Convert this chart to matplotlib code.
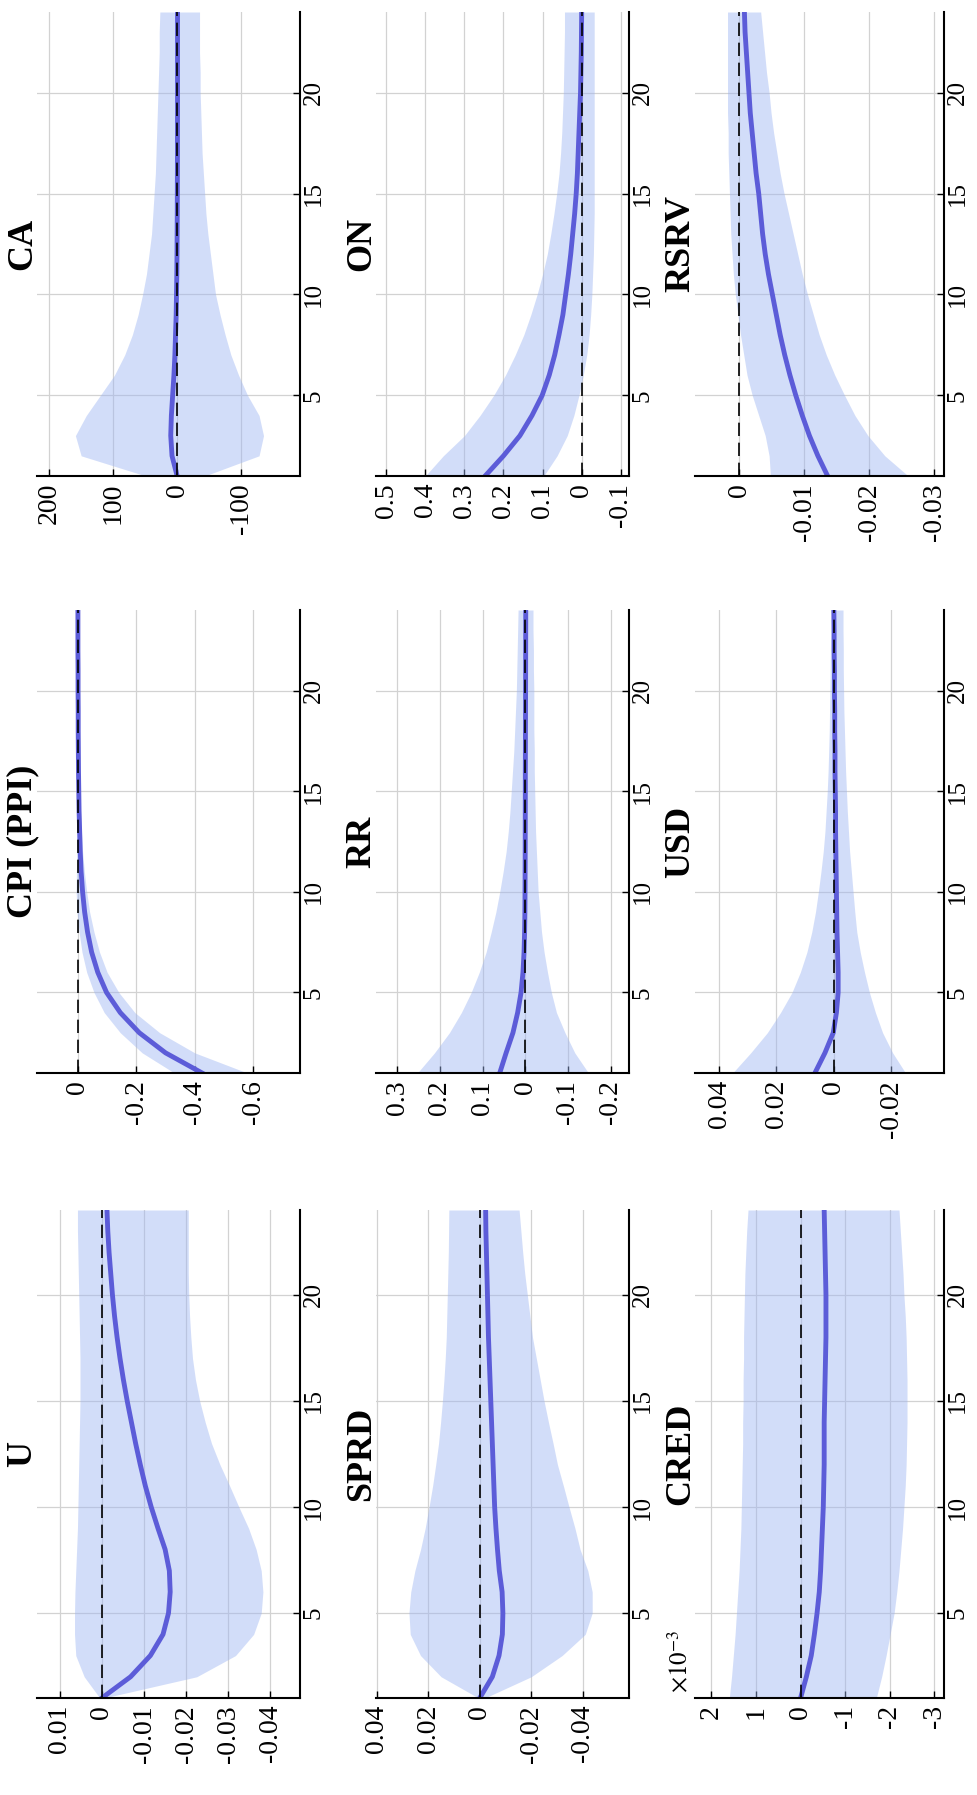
import matplotlib
matplotlib.use("Agg")
import matplotlib.pyplot as plt

plt.rcParams['font.family'] = ['Liberation Serif', 'DejaVu Serif']
plt.rcParams['mathtext.fontset'] = 'stix'

# impulse responses, horizons 1..24 (median, lower band, upper band)
horizon = list(range(1, 25))

u_irf = [0.0, -0.0068, -0.0115, -0.0145, -0.0158, -0.0162, -0.0160, -0.0150, -0.0133, -0.0117, -0.0103, -0.0091,
         -0.0080, -0.0070, -0.0060, -0.0051, -0.0043, -0.0036, -0.0030, -0.0025, -0.0021, -0.0017, -0.0014, -0.0012]
u_lo = [-0.0005, -0.0225, -0.0317, -0.0360, -0.0378, -0.0382, -0.0378, -0.0366, -0.0348, -0.0325, -0.0303, -0.0280,
        -0.0260, -0.0245, -0.0232, -0.0222, -0.0215, -0.0211, -0.0208, -0.0206, -0.0205, -0.0205, -0.0205, -0.0205]
u_hi = [0.0005, 0.0042, 0.0062, 0.0065, 0.0065, 0.0064, 0.0062, 0.0060, 0.0058, 0.0057, 0.0056, 0.0055,
        0.0054, 0.0053, 0.0052, 0.0052, 0.0052, 0.0053, 0.0054, 0.0055, 0.0056, 0.0057, 0.0058, 0.0058]

cpi_irf = [-0.425, -0.30, -0.21, -0.145, -0.098, -0.068, -0.047, -0.033, -0.023, -0.016, -0.011, -0.008,
           -0.006, -0.004, -0.003, -0.002, -0.0015, -0.001, -0.001, -0.0005, -0.0005, 0.0, 0.0, 0.0]
cpi_lo = [-0.58, -0.40, -0.28, -0.195, -0.14, -0.10, -0.074, -0.055, -0.04, -0.03, -0.022, -0.016,
          -0.012, -0.009, -0.007, -0.005, -0.004, -0.003, -0.002, -0.002, -0.001, -0.001, -0.001, -0.001]
cpi_hi = [-0.33, -0.22, -0.145, -0.09, -0.055, -0.03, -0.014, -0.004, 0.003, 0.006, 0.005, 0.004,
          0.003, 0.002, 0.002, 0.001, 0.001, 0.001, 0.001, 0.0, 0.0, 0.0, 0.0, 0.0]

ca_irf = [0.0, 8.0, 10.0, 9.0, 7.0, 5.0, 3.5, 2.5, 1.5, 1.0, 0.5, 0.2,
          0.0, -0.2, -0.3, -0.4, -0.5, -0.5, -0.6, -0.6, -0.6, -0.6, -0.6, -0.6]
ca_lo = [-43, -128, -135, -128, -110, -96, -84, -75, -67, -60, -56, -52,
         -48, -45, -43, -41, -39, -38, -37, -36, -36, -35, -35, -35]
ca_hi = [49, 150, 159, 142, 120, 98, 82, 70, 61, 54, 48, 44,
         40, 38, 36, 34, 33, 32, 31, 30, 29, 28, 28, 27]

sprd_irf = [0.0, -0.0049, -0.0075, -0.0088, -0.0090, -0.0087, -0.0076, -0.0069, -0.0063, -0.0058, -0.0055, -0.0052,
            -0.0049, -0.0046, -0.0043, -0.0040, -0.0037, -0.0034, -0.0032, -0.0030, -0.0028, -0.0026, -0.0024, -0.0023]
sprd_lo = [-0.002, -0.020, -0.032, -0.041, -0.0437, -0.0437, -0.042, -0.039, -0.037, -0.0347, -0.0325, -0.0302,
           -0.0285, -0.0267, -0.025, -0.0235, -0.022, -0.0205, -0.0195, -0.0185, -0.0175, -0.0167, -0.016, -0.0153]
sprd_hi = [0.0005, 0.015, 0.023, 0.027, 0.0275, 0.0268, 0.0252, 0.023, 0.0212, 0.0197, 0.0183, 0.0171,
           0.016, 0.0152, 0.0145, 0.0139, 0.0134, 0.013, 0.0128, 0.0126, 0.0124, 0.0122, 0.0121, 0.012]

rr_irf = [0.06, 0.045, 0.029, 0.018, 0.010, 0.0055, 0.003, 0.0017, 0.001, 0.0007, 0.0005, 0.0003,
          0.0002, 0.0001, 0.0, 0.0, -0.0002, -0.0003, -0.0005, -0.0006, -0.0007, -0.0008, -0.0009, -0.001]
rr_lo = [-0.148, -0.116, -0.093, -0.073, -0.061, -0.052, -0.044, -0.038, -0.034, -0.030, -0.028, -0.026,
         -0.024, -0.023, -0.022, -0.021, -0.021, -0.020, -0.020, -0.020, -0.019, -0.019, -0.018, -0.018]
rr_hi = [0.253, 0.213, 0.178, 0.150, 0.127, 0.108, 0.092, 0.080, 0.069, 0.060, 0.052, 0.045,
         0.040, 0.036, 0.033, 0.030, 0.027, 0.025, 0.023, 0.021, 0.020, 0.019, 0.018, 0.017]

on_irf = [0.247, 0.200, 0.158, 0.127, 0.101, 0.083, 0.069, 0.058, 0.048, 0.041, 0.034, 0.028,
          0.023, 0.018, 0.014, 0.011, 0.009, 0.007, 0.005, 0.003, 0.002, 0.001, 0.0005, 0.0]
on_lo = [0.097, 0.063, 0.037, 0.020, 0.007, -0.004, -0.013, -0.019, -0.023, -0.026, -0.028, -0.030,
         -0.031, -0.032, -0.032, -0.032, -0.032, -0.032, -0.032, -0.032, -0.032, -0.032, -0.032, -0.032]
on_hi = [0.400, 0.354, 0.300, 0.260, 0.225, 0.195, 0.170, 0.148, 0.130, 0.114, 0.100, 0.088,
         0.079, 0.071, 0.064, 0.058, 0.054, 0.051, 0.049, 0.047, 0.046, 0.045, 0.044, 0.044]

# CRED is shown in units of 10^-3
cred_irf = [0.0, -0.13, -0.24, -0.31, -0.37, -0.42, -0.45, -0.47, -0.49, -0.51, -0.52, -0.53,
            -0.53, -0.53, -0.54, -0.55, -0.56, -0.57, -0.57, -0.57, -0.56, -0.55, -0.54, -0.53]
cred_lo = [-1.70, -1.82, -1.92, -2.01, -2.10, -2.16, -2.21, -2.25, -2.29, -2.32, -2.35, -2.37,
           -2.38, -2.39, -2.39, -2.39, -2.38, -2.37, -2.35, -2.32, -2.30, -2.27, -2.24, -2.21]
cred_hi = [1.60, 1.55, 1.51, 1.47, 1.44, 1.41, 1.38, 1.36, 1.34, 1.33, 1.32, 1.31,
           1.30, 1.30, 1.29, 1.29, 1.28, 1.28, 1.27, 1.26, 1.25, 1.23, 1.21, 1.18]

usd_irf = [0.0066, 0.0031, 0.0002, -0.0009, -0.0015, -0.0015, -0.0013, -0.0011, -0.0010, -0.0009, -0.0008, -0.0007,
           -0.0006, -0.0006, -0.0005, -0.0004, -0.0004, -0.0003, -0.0003, -0.0002, -0.0002, -0.0001, -0.0001, 0.0]
usd_lo = [-0.025, -0.0205, -0.017, -0.0145, -0.0124, -0.0107, -0.0092, -0.008, -0.0073, -0.0067, -0.0061, -0.0055,
          -0.0051, -0.0047, -0.0044, -0.0041, -0.0039, -0.0037, -0.0035, -0.0034, -0.0033, -0.0033, -0.0032, -0.0032]
usd_hi = [0.0353, 0.029, 0.0232, 0.0186, 0.0146, 0.0117, 0.0094, 0.0077, 0.0064, 0.0054, 0.0045, 0.0037,
          0.0031, 0.0027, 0.0023, 0.002, 0.0018, 0.0016, 0.0015, 0.0014, 0.0013, 0.0012, 0.0011, 0.001]

rsrv_irf = [-0.0136, -0.0121, -0.0108, -0.0097, -0.0087, -0.0078, -0.0070, -0.0063, -0.0057, -0.0051, -0.0045, -0.0040,
            -0.0036, -0.0033, -0.0030, -0.0026, -0.0023, -0.0020, -0.0017, -0.0015, -0.0013, -0.0011, -0.0009, -0.0008]
rsrv_lo = [-0.026, -0.0224, -0.0198, -0.0178, -0.0162, -0.0147, -0.0134, -0.0123, -0.0114, -0.0105, -0.0097, -0.009,
           -0.0083, -0.0076, -0.0069, -0.0063, -0.0058, -0.0053, -0.0049, -0.0046, -0.0042, -0.0039, -0.0036, -0.0033]
rsrv_hi = [-0.0048, -0.0046, -0.004, -0.003, -0.002, -0.0012, -0.0007, -0.0002, 0.0002, 0.0006, 0.0009, 0.0011,
           0.0013, 0.0014, 0.0015, 0.0016, 0.0017, 0.0017, 0.0018, 0.0018, 0.0018, 0.0018, 0.0018, 0.0018]

# value-axis ticks (the page is turned: values run right-to-left)
u_ticks = [0.01, 0, -0.01, -0.02, -0.03, -0.04]
cpi_ticks = [0, -0.2, -0.4, -0.6]
ca_ticks = [200, 100, 0, -100]
sprd_ticks = [0.04, 0.02, 0, -0.02, -0.04]
rr_ticks = [0.3, 0.2, 0.1, 0, -0.1, -0.2]
on_ticks = [0.5, 0.4, 0.3, 0.2, 0.1, 0, -0.1]
cred_ticks = [2, 1, 0, -1, -2, -3]
usd_ticks = [0.04, 0.02, 0, -0.02]
rsrv_ticks = [0, -0.01, -0.02, -0.03]
horizon_ticks = [5, 10, 15, 20]

panels = {
    "U": (u_irf, u_lo, u_hi, u_ticks, (0.0154, -0.047)),
    "CPI (PPI)": (cpi_irf, cpi_lo, cpi_hi, cpi_ticks, (0.14, -0.76)),
    "CA": (ca_irf, ca_lo, ca_hi, ca_ticks, (219, -192)),
    "SPRD": (sprd_irf, sprd_lo, sprd_hi, sprd_ticks, (0.0403, -0.058)),
    "RR": (rr_irf, rr_lo, rr_hi, rr_ticks, (0.35, -0.243)),
    "ON": (on_irf, on_lo, on_hi, on_ticks, (0.526, -0.121)),
    "CRED": (cred_irf, cred_lo, cred_hi, cred_ticks, (2.37, -3.22)),
    "USD": (usd_irf, usd_lo, usd_hi, usd_ticks, (0.0484, -0.0384)),
    "RSRV": (rsrv_irf, rsrv_lo, rsrv_hi, rsrv_ticks, (0.0068, -0.0315)),
}

layout = [["CA", "ON", "RSRV"],
          ["CPI (PPI)", "RR", "USD"],
          ["U", "SPRD", "CRED"]]

W, H = 977, 1795
cols = [(37, 300), (376, 629), (695, 944)]
rows = [(12, 476), (610, 1073), (1210, 1698)]

fill_col = '#9db5f2'
line_col = '#5c5cd8'

fig = plt.figure(figsize=(W / 100, H / 100), dpi=100)

for r, row in enumerate(layout):
    for c, name in enumerate(row):
        irf, lo, hi, ticks, lims = panels[name]
        x0, x1 = cols[c]
        y0, y1 = rows[r]
        ax = fig.add_axes([x0 / W, 1 - y1 / H, (x1 - x0) / W, (y1 - y0) / H])

        ax.fill_betweenx(horizon, lo, hi, color=fill_col, alpha=0.45, lw=0, zorder=1)
        ax.plot(irf, horizon, color=line_col, lw=3.5, zorder=2)
        ax.axvline(0, color='k', ls=(0, (8, 4)), lw=1.2, zorder=3)

        ax.set_xlim(*lims)
        ax.set_ylim(1, 24)
        ax.set_xticks(ticks, labels=[f"{t:g}" for t in ticks])
        ax.set_yticks(horizon_ticks, labels=[str(t) for t in horizon_ticks])
        ax.yaxis.tick_right()
        ax.tick_params(axis='x', direction='in', length=5, width=1, labelsize=20,
                       labelrotation=90, pad=5)
        ax.tick_params(axis='y', direction='in', length=5, width=1, labelsize=18,
                       labelrotation=90, pad=2)
        for lab in ax.get_yticklabels():
            lab.set_va('center')

        ax.grid(True, color='#d2d2d2', lw=0.9)
        ax.set_axisbelow(True)
        ax.spines['top'].set_visible(False)
        ax.spines['left'].set_visible(False)
        ax.spines['bottom'].set_linewidth(1.5)
        ax.spines['right'].set_linewidth(1.5)

        ax.text(-14 / (x1 - x0), 0.5, name, transform=ax.transAxes, rotation=90,
                ha='center', va='center', fontsize=26, fontweight='bold')
        if name == "CRED":
            ax.text(-14 / (x1 - x0), 0.01, r'$\times10^{-3}$', transform=ax.transAxes,
                    rotation=90, ha='center', va='bottom', fontsize=18)

fig.savefig("out.png", dpi=100, facecolor='white')
